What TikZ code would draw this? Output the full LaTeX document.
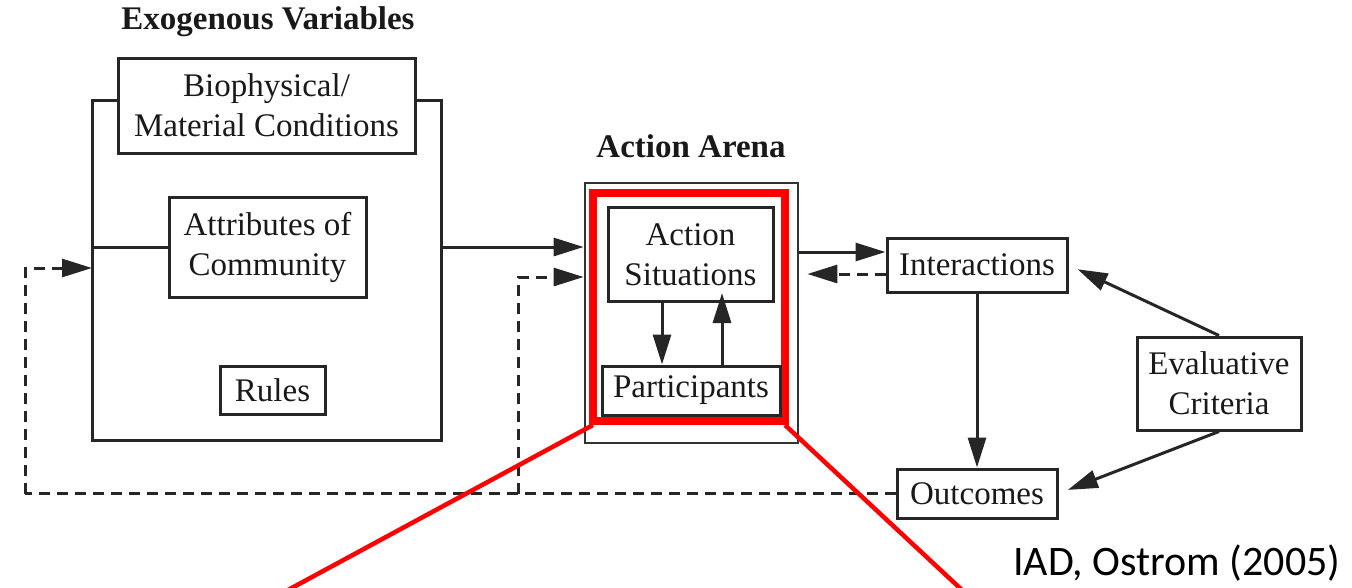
\documentclass[tikz,border=0pt]{standalone}
\usepackage{fontspec}
\setmainfont{Liberation Serif}
\newfontfamily\calibri{Carlito}
\usetikzlibrary{arrows.meta,positioning,calc}
\begin{document}
\begin{tikzpicture}[x=1pt,y=-1pt,
  box/.style={draw=black!85,line width=3pt,inner sep=0pt,align=center,
    font=\fontsize{33}{40}\selectfont,text=black!90},
  ttl/.style={font=\fontsize{33}{40}\selectfont\bfseries,text=black!90},
  conn/.style={draw=black!85,line width=3pt},
  arr/.style={conn,-{Triangle[length=30pt,width=18pt]}},
  darr/.style={conn,dash pattern=on 11pt off 7pt,-{Triangle[length=30pt,width=18pt]}},
  dline/.style={conn,dash pattern=on 11pt off 7pt},
  redl/.style={draw=red,line width=4.5pt},
  redbox/.style={draw=red,line width=8pt}]
\useasboundingbox (0,0) rectangle (1352,587);

% Titles
\node[ttl] (exttl) at (268,22) {Exogenous Variables};
\node[ttl] (arttl) at (691,146) {Action Arena};

% Exogenous variables
\node[box,minimum width=297pt,minimum height=95pt] (bio) at (266.5,105.5) {Biophysical/\\Material Conditions};
\node[box,minimum width=197pt,minimum height=100pt] (attr) at (267.5,247) {Attributes of\\Community};
\node[box,minimum width=105pt,minimum height=48pt] (rules) at (272.5,390.5) {Rules};
\coordinate (exL) at (92,100);
\coordinate (exR) at (441,100);
\coordinate (exBL) at (92,440);
\coordinate (exBR) at (441,440);
\draw[conn] (bio.west |- exL) -- (exL) -- (exBL) -- (exBR) -- (exR) -- (bio.east |- exR);
\draw[conn] (exL |- attr.west) -- (attr.west);

% Action arena
\node[draw=black!80,line width=2.8pt,minimum width=213pt,minimum height=260pt,inner sep=0pt] (arena) at (691.5,313) {};
\coordinate (rTL) at (593,193);
\coordinate (rBR) at (785,421);
\draw[redbox] (rTL) rectangle (rBR);
\node[box,minimum width=165pt,minimum height=94pt] (as) at (690.5,254.5) {Action\\Situations};
\node[box,minimum width=178pt,minimum height=49pt] (part) at (691,390.5) {Participants};
\draw[arr] (as.south -| 662,0) -- (part.north -| 662,0);
\draw[arr] (part.north -| 722,0) -- ([yshift=10pt]as.south -| 722,0);

% Right part
\node[box,minimum width=180pt,minimum height=54pt] (inter) at (977,265) {Interactions};
\node[box,minimum width=160pt,minimum height=49pt] (outc) at (977,493.5) {Outcomes};
\node[box,minimum width=164pt,minimum height=93pt] (eval) at (1219,383.5) {Evaluative\\Criteria};

\draw[arr] (exR |- attr.west) -- (arena.west |- attr.west);
\draw[arr] (arena.east |- 0,252) -- (inter.west |- 0,252);
\draw[darr,shorten >=8pt] (inter.west |- 0,274) -- (arena.east |- 0,274);
\draw[arr] (inter.south) -- (outc.north);
\draw[arr,shorten >=10pt] (eval.north) -- (inter.east);
\draw[arr,shorten >=10pt] (eval.south) -- (outc.east);

% Feedback dashed lines
\coordinate (fbL) at (25,493.5);
\coordinate (fbM) at (518,493.5);
\draw[dline] (outc.west) -- (fbL);
\draw[darr] (fbL) |- (exL |- 0,268);
\draw[darr] (fbM) |- (arena.west |- 0,277);

% Red zoom lines
\coordinate (zl) at (288,590);
\coordinate (zr) at (962,590);
\draw[redl] (rBR -| rTL) ++(0,4) -- (zl);
\draw[redl] (rBR) ++(0,4) -- (zr);

% Citation
\node[font=\calibri\fontsize{42}{48}\selectfont,anchor=base east] (cite) at (1344,575) {IAD, Ostrom (2005)};
\end{tikzpicture}
\end{document}
